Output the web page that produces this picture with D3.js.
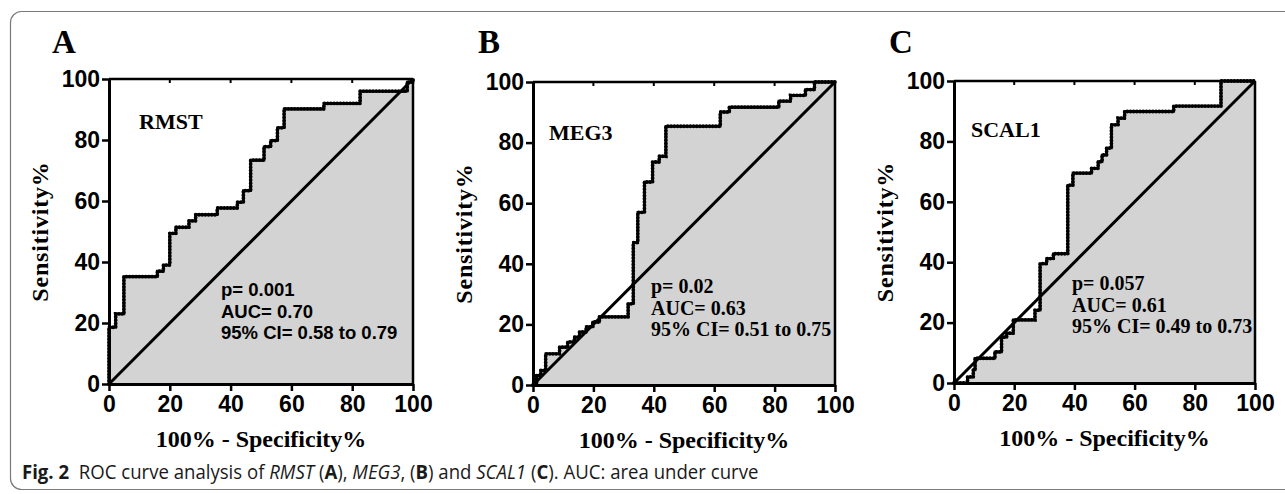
<!DOCTYPE html>
<html>
<head>
<meta charset="utf-8">
<script src="https://cdn.jsdelivr.net/npm/d3@7"></script>
<style>
  html, body { margin: 0; padding: 0; background: #fff; }
  svg { display: block; }
</style>
</head>
<body>
<svg id="chart" width="1285" height="494"></svg>
<script>
// ---------------- DATA ----------------
const panelLetters = ["A", "B", "C"];
const geneNames = ["RMST", "MEG3", "SCAL1"];
const tickValues = [0, 20, 40, 60, 80, 100];
const yAxisTitle = "Sensitivity%";
const xAxisTitle = "100% - Specificity%";

// ROC corner points: [100% - Specificity%, Sensitivity%]
const rocRMST = [[0,0],[0,18.6],[2.2,23],[4.9,35.2],[15.9,37],[17.9,39],[20,49.4],[22,51.4],[26.3,53.5],[28.5,55.5],[35.6,57.7],[42.2,59.6],[44.2,63.4],[46.6,73.4],[51,77.8],[53.2,79.8],[55.4,84],[57.6,90.2],[70.7,92],[82.6,96],[98.1,99],[100,100]];
const rocMEG3 = [[0,0],[1.2,3.2],[2.6,4.8],[4.2,10.3],[8.8,12.5],[11.5,14.2],[13.7,15.8],[15.4,17.5],[17.6,19.2],[19.8,20.8],[22,22.5],[31.5,26.8],[33.2,47],[34.7,57],[36.9,67],[39.6,73.6],[41.8,75.5],[44,85.4],[62,90.1],[65,91.7],[81.4,93.7],[85.3,95.6],[90.2,97.5],[93.2,100],[100,100]];
const rocSCAL1 = [[0,0],[4.5,2],[6.4,4.3],[7,8.2],[13.6,10.3],[15.8,15.2],[17.5,16.5],[19.7,20.9],[26.9,24.1],[28.6,39.5],[30.8,41.2],[33,42.8],[37.8,65.5],[39.5,69.5],[45.7,71.1],[47.9,73.3],[49.2,75.5],[50.7,77.8],[52.3,85.5],[54.5,87.7],[56.7,89.9],[73,91.7],[88.7,100],[100,100]];
const rocSeries = [rocRMST, rocMEG3, rocSCAL1];

const pValues = ["p= 0.001", "p= 0.02", "p= 0.057"];
const aucValues = ["AUC= 0.70", "AUC= 0.63", "AUC= 0.61"];
const ciValues = ["95% CI= 0.58 to 0.79", "95% CI= 0.51 to 0.75", "95% CI= 0.49 to 0.73"];

// ---------------- LAYOUT ----------------
const serif = "'Liberation Serif', 'Times New Roman', serif";
const sans = "'Liberation Sans', Arial, sans-serif";
const panels = [
  { x0: 109, x1: 413, yTop: 79, yBot: 384, statsFont: sans, statsSize: 18.5, statsX: 221, statsY: 296, geneX: 139, geneY: 129, letterX: 52 },
  { x0: 533, x1: 835, yTop: 82, yBot: 385, statsFont: serif, statsSize: 20, statsX: 651, statsY: 293, geneX: 549, geneY: 140, letterX: 478 },
  { x0: 954, x1: 1255, yTop: 81, yBot: 383, statsFont: serif, statsSize: 20, statsX: 1072, statsY: 290, geneX: 971, geneY: 137, letterX: 889 }
];

const svg = d3.select("#chart");

// frame
svg.append("rect")
  .attr("x", 10.5).attr("y", 11.5)
  .attr("width", 1320).attr("height", 478)
  .attr("rx", 11).attr("ry", 11)
  .attr("fill", "none").attr("stroke", "#7a7a7a").attr("stroke-width", 1.2);

panels.forEach((p, i) => {
  const g = svg.append("g");
  const x = d3.scaleLinear().domain([0, 100]).range([p.x0, p.x1]);
  const y = d3.scaleLinear().domain([0, 100]).range([p.yBot, p.yTop]);
  const data = rocSeries[i];

  // area under curve
  const area = d3.area().x(d => x(d[0])).y0(y(0)).y1(d => y(d[1])).curve(d3.curveStepAfter);
  g.append("path").datum(data).attr("d", area).attr("fill", "#d3d3d3");

  // diagonal
  g.append("line")
    .attr("x1", x(0)).attr("y1", y(0)).attr("x2", x(100)).attr("y2", y(100))
    .attr("stroke", "#000").attr("stroke-width", 3);

  // ROC step curve
  const line = d3.line().x(d => x(d[0])).y(d => y(d[1])).curve(d3.curveStepAfter);
  g.append("path").datum(data).attr("d", line)
    .attr("fill", "none").attr("stroke", "#111").attr("stroke-width", 2.6);
  g.append("path").datum(data).attr("d", line)
    .attr("fill", "none").attr("stroke", "#000").attr("stroke-width", 3.8)
    .attr("stroke-linecap", "round").attr("stroke-dasharray", "0.1 3.1");

  // top and right spines
  g.append("line").attr("x1", x(0)).attr("x2", x(100)).attr("y1", y(100)).attr("y2", y(100))
    .attr("stroke", "#000").attr("stroke-width", 2.5);
  g.append("line").attr("x1", x(100)).attr("x2", x(100)).attr("y1", y(0)).attr("y2", y(100))
    .attr("stroke", "#000").attr("stroke-width", 2.5);
  // inward top ticks
  g.selectAll(".ttick").data(tickValues.slice(1, -1)).enter().append("line")
    .attr("x1", d => x(d)).attr("x2", d => x(d)).attr("y1", y(100)).attr("y2", y(100) + 4)
    .attr("stroke", "#000").attr("stroke-width", 2);

  // axes
  const xAxis = g.append("g").attr("transform", `translate(0,${y(0)})`)
    .call(d3.axisBottom(x).tickValues(tickValues).tickSize(7).tickPadding(5).tickSizeOuter(0));
  const yAxis = g.append("g").attr("transform", `translate(${x(0)},0)`)
    .call(d3.axisLeft(y).tickValues(tickValues).tickSize(7).tickPadding(2).tickSizeOuter(0));
  [xAxis, yAxis].forEach(a => {
    a.select(".domain").attr("stroke", "#000").attr("stroke-width", 3);
    a.selectAll(".tick line").attr("stroke", "#000").attr("stroke-width", 2.5);
    a.selectAll(".tick text").attr("fill", "#000")
      .style("font-family", sans).style("font-weight", "bold").style("font-size", "23px");
  });

  // axis titles
  g.append("text")
    .attr("x", (p.x0 + p.x1) / 2).attr("y", p.yBot + 63)
    .attr("text-anchor", "middle")
    .style("font-family", serif).style("font-weight", "bold").style("font-size", "24px")
    .text(xAxisTitle);
  g.append("text")
    .attr("transform", `translate(${p.x0 - 61},${(p.yTop + p.yBot) / 2}) rotate(-90)`)
    .attr("text-anchor", "middle")
    .style("font-family", serif).style("font-weight", "bold").style("font-size", "24px")
    .style("letter-spacing", "0.8px")
    .text(yAxisTitle);

  // panel letter
  g.append("text").attr("x", p.letterX).attr("y", 53)
    .style("font-family", serif).style("font-weight", "bold").style("font-size", "33px")
    .text(panelLetters[i]);

  // gene name
  g.append("text").attr("x", p.geneX).attr("y", p.geneY)
    .style("font-family", serif).style("font-weight", "bold").style("font-size", "22px")
    .text(geneNames[i]);

  // stats
  [pValues[i], aucValues[i], ciValues[i]].forEach((t, k) => {
    g.append("text").attr("x", p.statsX).attr("y", p.statsY + k * 21.5)
      .style("font-family", p.statsFont).style("font-weight", "bold").style("font-size", p.statsSize + "px")
      .text(t);
  });
});

// caption
const capScale = 0.93;
const cap = svg.append("text")
  .attr("transform", `translate(22,479) scale(${capScale},1)`)
  .style("font-family", "'Open Sans', 'Noto Sans', sans-serif").style("font-size", "20px").attr("fill", "#1a1a1a")
  .style("white-space", "pre");
const parts = [
  ["Fig. 2", "bold", "normal"], ["  ROC curve analysis of ", "normal", "normal"],
  ["RMST", "normal", "italic"], [" (", "normal", "normal"], ["A", "bold", "normal"],
  ["), ", "normal", "normal"], ["MEG3", "normal", "italic"], [", (", "normal", "normal"],
  ["B", "bold", "normal"], [") and ", "normal", "normal"], ["SCAL1", "normal", "italic"],
  [" (", "normal", "normal"], ["C", "bold", "normal"], ["). AUC: area under curve", "normal", "normal"]
];
parts.forEach(([t, w, s]) => {
  cap.append("tspan").style("font-weight", w).style("font-style", s).text(t);
});
</script>
</body>
</html>
